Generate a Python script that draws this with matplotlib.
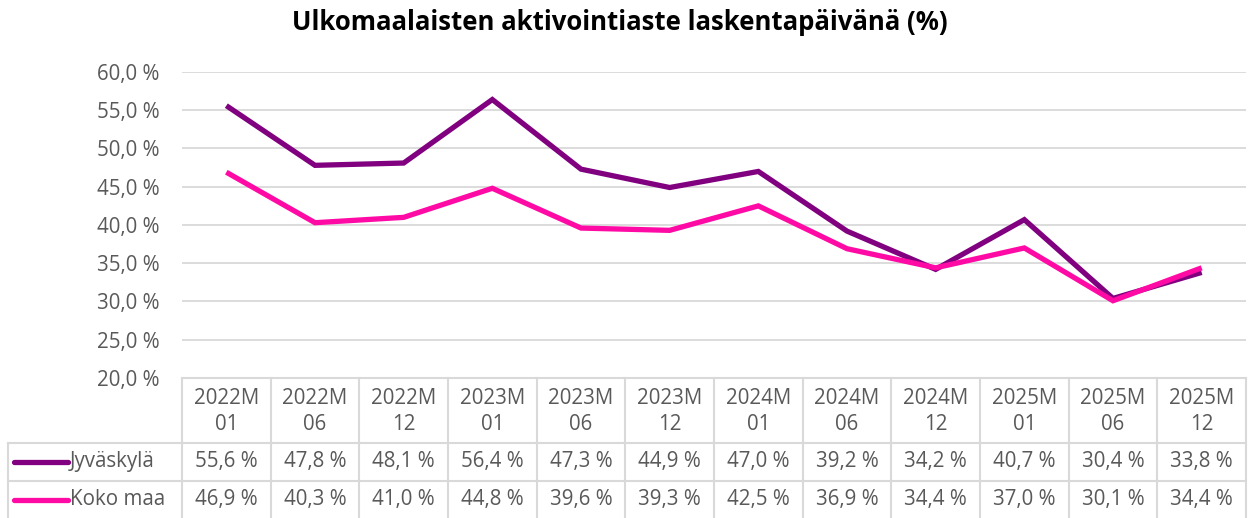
import matplotlib
matplotlib.use("Agg")
import matplotlib.pyplot as plt
from matplotlib.lines import Line2D

plt.rcParams["font.family"] = ["Open Sans", "DejaVu Sans"]

kaudet = ["2022M\n01", "2022M\n06", "2022M\n12", "2023M\n01", "2023M\n06", "2023M\n12",
          "2024M\n01", "2024M\n06", "2024M\n12", "2025M\n01", "2025M\n06", "2025M\n12"]
jyvaskyla = [55.6, 47.8, 48.1, 56.4, 47.3, 44.9, 47.0, 39.2, 34.2, 40.7, 30.4, 33.8]
koko_maa = [46.9, 40.3, 41.0, 44.8, 39.6, 39.3, 42.5, 36.9, 34.4, 37.0, 30.1, 34.4]
sarjat = ["Jyväskylä", "Koko maa"]
y_ticks = [20, 25, 30, 35, 40, 45, 50, 55, 60]

VIOLETTI = "#800080"
PINKKI = "#FF0AA5"
HARMAA = "#D9D9D9"
TEKSTI = "#595959"
FS = 14.8

W, H = 1248, 518
fig = plt.figure(figsize=(W / 100, H / 100), dpi=100)

# plot area in pixels
x0, x1 = 182, 1246
y_top, y_bot = 72, 378
ax = fig.add_axes([x0 / W, 1 - y_bot / H, (x1 - x0) / W, (y_bot - y_top) / H])

n = len(kaudet)
xs = list(range(n))
ax.plot(xs, jyvaskyla, color=VIOLETTI, lw=3.8, solid_joinstyle="miter", solid_capstyle="butt")
ax.plot(xs, koko_maa, color=PINKKI, lw=3.8, solid_joinstyle="miter", solid_capstyle="butt")

ax.set_xlim(-0.5, n - 0.5)
ax.set_ylim(20, 60)
ax.set_yticks(y_ticks)
ax.set_yticklabels([f"{v:.1f} %".replace(".", ",") for v in y_ticks])
ax.tick_params(axis="y", length=0, pad=16, labelsize=FS, labelcolor=TEKSTI)
ax.set_xticks([])
ax.grid(axis="y", color=HARMAA, lw=1.3)
ax.set_axisbelow(True)
for s in ax.spines.values():
    s.set_visible(False)

fig.text(0.497, 1 - 23 / H, "Ulkomaalaisten aktivointiaste laskentapäivänä (%)",
         ha="center", va="center", fontsize=18.5, fontweight="bold", color="black")

# data table under the plot
def fy(py):
    return 1 - py / H

def fx(px):
    return px / W

col_w = (x1 - x0) / n
rivi1, rivi2, rivi3, ala = 378, 443, 481, 518
viivat = []
viivat.append(Line2D([fx(x0), fx(x1)], [fy(rivi1)] * 2))
viivat.append(Line2D([fx(8), fx(x1)], [fy(rivi2)] * 2))
viivat.append(Line2D([fx(8), fx(x1)], [fy(rivi3)] * 2))
viivat.append(Line2D([fx(8), fx(8)], [fy(rivi2), fy(ala)]))
for i in range(n + 1):
    xp = x0 + i * col_w
    viivat.append(Line2D([fx(xp), fx(xp)], [fy(rivi1), fy(ala)]))
for l in viivat:
    l.set_color(HARMAA)
    l.set_linewidth(1.5)
    fig.add_artist(l)

for i, k in enumerate(kaudet):
    xc = x0 + (i + 0.5) * col_w
    fig.text(fx(xc), fy((rivi1 + rivi2) / 2 + 1), k, ha="center", va="center",
             fontsize=FS, color=TEKSTI, linespacing=1.35)
    fig.text(fx(xc), fy((rivi2 + rivi3) / 2), f"{jyvaskyla[i]:.1f} %".replace(".", ","),
             ha="center", va="center", fontsize=FS, color=TEKSTI)
    fig.text(fx(xc), fy((rivi3 + ala) / 2), f"{koko_maa[i]:.1f} %".replace(".", ","),
             ha="center", va="center", fontsize=FS, color=TEKSTI)

for nimi, vari, (ya, yb) in zip(sarjat, [VIOLETTI, PINKKI], [(rivi2, rivi3), (rivi3, ala)]):
    yc = fy((ya + yb) / 2)
    fig.add_artist(Line2D([fx(14), fx(68)], [yc, yc], color=vari, lw=3.8, solid_capstyle="round"))
    fig.text(fx(70), yc, nimi, ha="left", va="center", fontsize=FS, color=TEKSTI)

fig.savefig("out.png", dpi=100)
